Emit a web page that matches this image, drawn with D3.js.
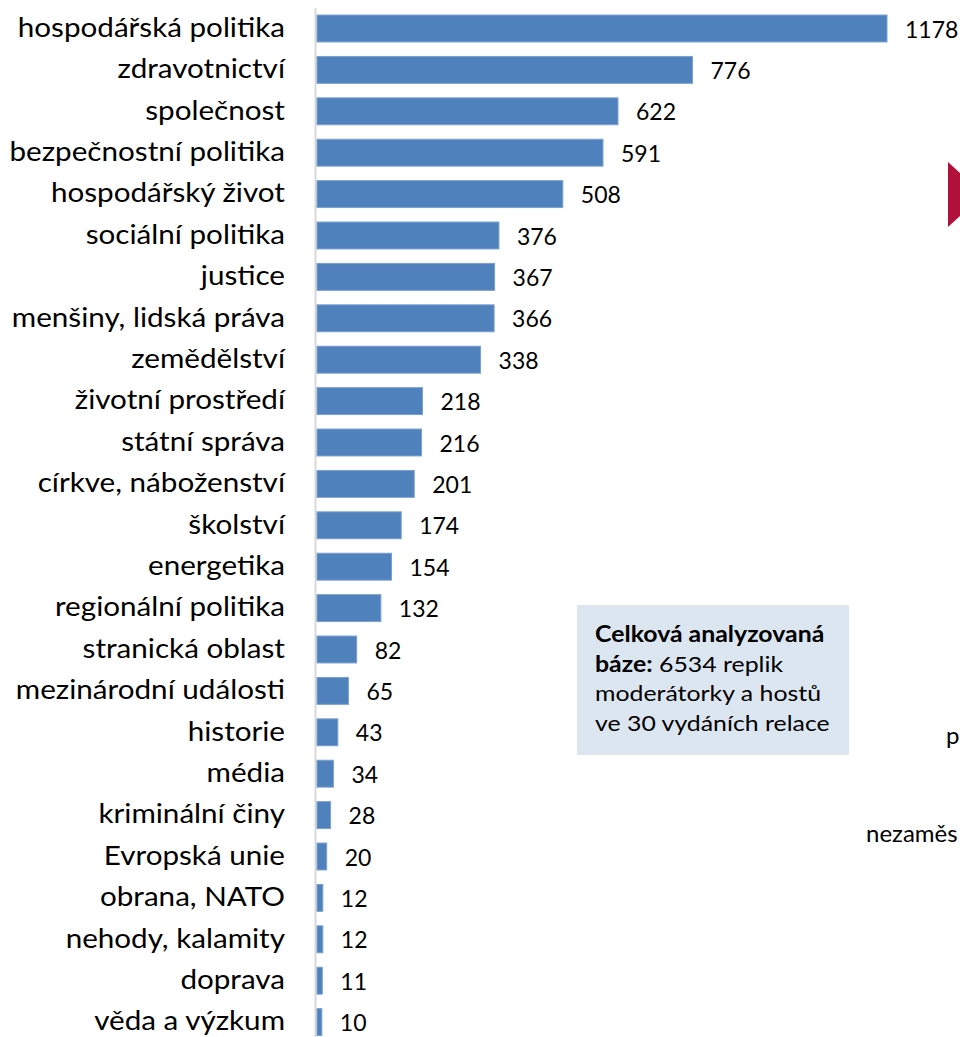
<!DOCTYPE html>
<html>
<head>
<meta charset="utf-8">
<script src="https://cdn.jsdelivr.net/npm/d3@7"></script>
<style>
  body { margin: 0; background: #fff; }
  svg { display: block; font-family: Lato, "Open Sans", sans-serif; }
</style>
</head>
<body>
<svg id="chart" width="960" height="1037"></svg>
<script>
// topics and number of replicas
var categories = ["hospodářská politika", "zdravotnictví", "společnost", "bezpečnostní politika",
  "hospodářský život", "sociální politika", "justice", "menšiny, lidská práva", "zemědělství",
  "životní prostředí", "státní správa", "církve, náboženství", "školství", "energetika",
  "regionální politika", "stranická oblast", "mezinárodní události", "historie", "média",
  "kriminální činy", "Evropská unie", "obrana, NATO", "nehody, kalamity", "doprava", "věda a výzkum"];
var values = [1178, 776, 622, 591, 508, 376, 367, 366, 338, 218, 216, 201, 174, 154, 132,
  82, 65, 43, 34, 28, 20, 12, 12, 11, 10];

var noteBold = ["Celková analyzovaná", "báze:"];
var noteLines = ["6534 replik", "moderátorky a hostů", "ve 30 vydáních relace"];

var svg = d3.select("#chart");

var x = d3.scaleLinear().domain([0, 1178]).range([317, 887]);
var y = d3.scaleBand().domain(categories).range([7.8, 1042.8])
  .paddingInner(0.35).paddingOuter(0.175);

// axis line
svg.append("line")
  .attr("x1", 315.5).attr("x2", 315.5)
  .attr("y1", 8).attr("y2", 1037)
  .attr("stroke", "#d9d9d9").attr("stroke-width", 2);

svg.selectAll("rect.bar")
  .data(values)
  .enter()
  .append("rect")
    .attr("class", "bar")
    .attr("x", x(0))
    .attr("y", function(d, i){ return y(categories[i]) })
    .attr("width", function(d){ return x(d) - x(0) })
    .attr("height", y.bandwidth())
    .attr("fill", "#4f81bd")
    .attr("stroke", "#7aa0cf")
    .attr("stroke-width", 1);

// labels are a bit wider than Lato, stretch them
svg.selectAll("text.cat")
  .data(categories)
  .enter()
  .append("text")
    .attr("class", "cat")
    .attr("transform", function(d){ return "translate(285," + (y(d) + y.bandwidth() / 2) + ") scale(1.14,1)" })
    .attr("dy", "0.32em")
    .attr("text-anchor", "end")
    .attr("font-size", 26)
    .attr("fill", "#000")
    .text(function(d){ return d });

svg.selectAll("text.val")
  .data(values)
  .enter()
  .append("text")
    .attr("class", "val")
    .attr("x", function(d){ return x(d) + 18 })
    .attr("y", function(d, i){ return y(categories[i]) + y.bandwidth() / 2 + 1 })
    .attr("dy", "0.35em")
    .attr("font-size", 23)
    .attr("fill", "#000")
    .text(function(d){ return d });

// note box
svg.append("rect")
  .attr("x", 577).attr("y", 605)
  .attr("width", 272).attr("height", 150)
  .attr("fill", "#dce6f1");

var note = svg.append("text")
  .attr("transform", "translate(595,0) scale(1.13,1)")
  .attr("font-size", 22).attr("fill", "#000");
note.append("tspan").attr("x", 0).attr("y", 642)
  .attr("font-weight", "bold").text(noteBold[0]);
var l2 = note.append("tspan").attr("x", 0).attr("y", 672);
l2.append("tspan").attr("font-weight", "bold").text(noteBold[1]);
l2.append("tspan").text(" " + noteLines[0]);
note.append("tspan").attr("x", 0).attr("y", 701).text(noteLines[1]);
note.append("tspan").attr("x", 0).attr("y", 731).text(noteLines[2]);

// fragments of the neighbouring chart cut off at the right edge
svg.append("path")
  .attr("d", "M948,162 L960,173 L960,216 L948,227 Z")
  .attr("fill", "#b0103a");
svg.append("text").attr("x", 946).attr("y", 744).attr("font-size", 24).text("p");
svg.append("text").attr("x", 866).attr("y", 842).attr("font-size", 24).text("nezaměs");
</script>
</body>
</html>
